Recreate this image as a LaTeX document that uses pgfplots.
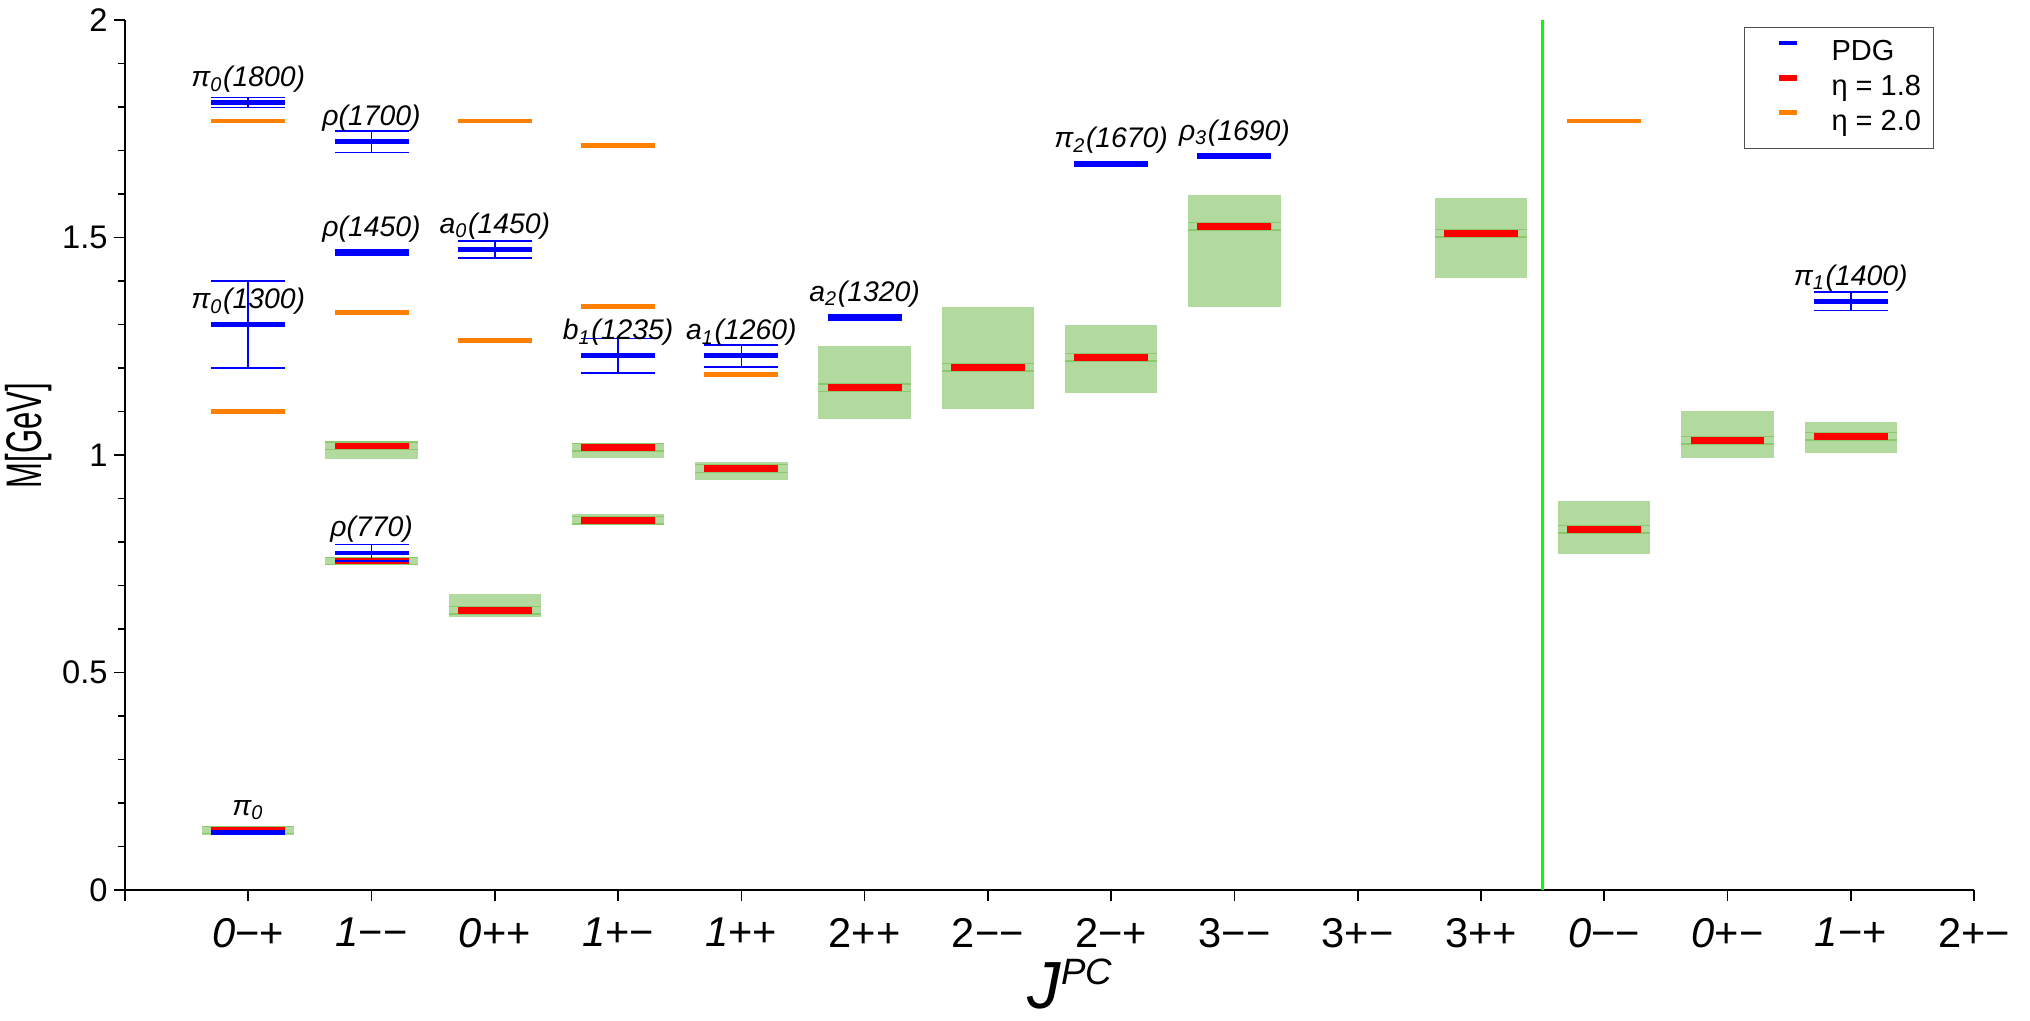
\documentclass[border=0pt]{standalone}
\usepackage{fontspec}
\setmainfont{Liberation Sans}
\usepackage{pgfplots}
\usepackage{pgfplotstable}
\pgfplotsset{compat=1.18}

\definecolor{pdgblue}{RGB}{0,0,255}
\definecolor{etared}{RGB}{255,0,0}
\definecolor{etaorange}{RGB}{255,128,0}
\definecolor{boxgreen}{RGB}{178,217,158}
\definecolor{linegreen}{RGB}{140,200,110}
\definecolor{vgreen}{RGB}{0,255,0}
\definecolor{legframe}{RGB}{80,80,80}

% PDG states: x, mass, error
\pgfplotstableread{
x y err
0 1.810 0.0115
0 1.300 0.100
0 0.133 0.004
1 1.720 0.025
1 1.465 0.006
1 0.775 0.019
2 1.473 0.0195
3 1.228 0.040
4 1.228 0.025
5 1.317 0.006
7 1.670 0.005
8 1.687 0.005
13 1.353 0.021
}\pdg

% eta = 1.8: x, value, band low, band high
\pgfplotstableread{
x red lo hi
0 0.138 0.126 0.145
1 1.021 0.991 1.029
1 0.756 0.750 0.766
2 0.643 0.628 0.680
3 1.0175 0.994 1.025
3 0.850 0.842 0.864
4 0.969 0.943 0.983
5 1.155 1.0835 1.2506
6 1.2013 1.1065 1.340
7 1.2245 1.1433 1.2989
8 1.5257 1.341 1.5977
10 1.5096 1.4076 1.5908
11 0.8292 0.7731 0.894
12 1.0337 0.9938 1.100
13 1.0429 1.0054 1.0759
}\calc

% eta = 2.0
\pgfplotstableread{
x y
0 1.768
0 1.100
1 1.328
2 1.768
2 1.2636
3 1.712
3 1.3416
4 1.1855
11 1.768
}\orng

\begin{document}
\begin{tikzpicture}
\begin{axis}[
  scale only axis, width=554.7pt, height=261pt,
  xmin=-1, xmax=14, ymin=0, ymax=2,
  axis lines*=left,
  axis line style={line width=0.7pt},
  tick align=outside,
  tick style={line width=0.5pt, black},
  major tick length=3.3pt, minor tick length=2.2pt,
  xtick={-1,0,...,14},
  xticklabels={{},{\textit{0}−+},{\textit{1}−−},{\textit{0}++},{\textit{1}+−},{\textit{1}++},{2++},{2−−},{2−+},{3−−},{3+−},{3++},{\textit{0}−−},{\textit{0}+−},{\textit{1}−+},{2+−}},
  ytick={0,0.5,1,1.5,2},
  yticklabels={0,0.5,1,1.5,2},
  minor y tick num=4,
  xticklabel style={font=\fontsize{12.5}{13}\selectfont, inner sep=0pt, yshift=-5pt},
  yticklabel style={font=\fontsize{9.8}{11}\selectfont, inner sep=0pt, xshift=-1.7pt},
  xlabel={\textit{J}\raisebox{7.2pt}{\fontsize{11}{12}\selectfont\textit{PC}}},
  xlabel style={at={(axis description cs:0.511,0)}, anchor=north, inner sep=0pt, yshift=-20.5pt, font=\fontsize{20}{22}\selectfont},
  ylabel={\scalebox{0.62}[1]{M[GeV]}},
  ylabel style={at={(axis description cs:-0.0523,0.522)}, anchor=center, inner sep=0pt, font=\fontsize{15}{16}\selectfont},
  legend style={at={(axis description cs:1,1)}, anchor=north east, xshift=-12pt, yshift=-2.1pt,
    draw=legframe, line width=0.4pt, font=\fontsize{8.7}{9}\selectfont,
    inner xsep=3.7pt, inner ysep=3.5pt, row sep=2.2pt,
    nodes={inner sep=0pt, text height=6.5pt, text depth=1.8pt},
    /tikz/every odd column/.append style={column sep=9.6pt}},
  legend cell align=left,
  clip=false,
]
% legend entries
\addlegendimage{legend image code/.code={\path (0pt,0pt); \draw[pdgblue, line width=1.1pt] (6.3pt,3.1pt) -- (11.7pt,3.1pt);}}
\addlegendentry{PDG}
\addlegendimage{legend image code/.code={\path (0pt,0pt); \draw[etared, line width=1.8pt] (6.3pt,3.1pt) -- (11.7pt,3.1pt);}}
\addlegendentry{η = 1.8}
\addlegendimage{legend image code/.code={\path (0pt,0pt); \draw[etaorange, line width=1.4pt] (6.3pt,3.1pt) -- (11.7pt,3.1pt);}}
\addlegendentry{η = 2.0}

% green bands
\addplot[draw=none, mark=none, forget plot,
  error bars/.cd, y dir=both, y explicit, error mark=none,
  error bar style={line width=27.7pt, draw=boxgreen}]
  table[x=x, y expr={(\thisrow{lo}+\thisrow{hi})/2}, y error expr={(\thisrow{hi}-\thisrow{lo})/2}] {\calc};
% thin darker lines inside the bands
\addplot[draw=none, mark=none, forget plot,
  error bars/.cd, x dir=both, x fixed=0.375, error mark=none,
  error bar style={line width=0.4pt, draw=linegreen}]
  table[x=x, y expr={\thisrow{red}+0.0085}] {\calc};
\addplot[draw=none, mark=none, forget plot,
  error bars/.cd, x dir=both, x fixed=0.375, error mark=none,
  error bar style={line width=0.4pt, draw=linegreen}]
  table[x=x, y expr={\thisrow{red}-0.0085}] {\calc};

% eta = 2.0
\addplot[draw=none, mark=none, forget plot,
  error bars/.cd, x dir=both, x fixed=0.3, error mark=none,
  error bar style={line width=1.4pt, draw=etaorange}]
  table[x=x, y=y] {\orng};

% eta = 1.8
\addplot[draw=none, mark=none, forget plot,
  error bars/.cd, x dir=both, x fixed=0.3, error mark=none,
  error bar style={line width=2pt, draw=etared}]
  table[x=x, y=red] {\calc};

% PDG error caps and vertical bars
\addplot[draw=none, mark=none, forget plot,
  error bars/.cd, x dir=both, x fixed=0.3, error mark=none,
  error bar style={line width=0.5pt, draw=pdgblue}]
  table[x=x, y expr={\thisrow{y}+\thisrow{err}}] {\pdg};
\addplot[draw=none, mark=none, forget plot,
  error bars/.cd, x dir=both, x fixed=0.3, error mark=none,
  error bar style={line width=0.5pt, draw=pdgblue}]
  table[x=x, y expr={\thisrow{y}-\thisrow{err}}] {\pdg};
\addplot[draw=none, mark=none, forget plot,
  error bars/.cd, y dir=both, y explicit, error mark=none,
  error bar style={line width=0.5pt, draw=pdgblue}]
  table[x=x, y=y, y error=err] {\pdg};
% PDG central values
\addplot[draw=none, mark=none, forget plot,
  error bars/.cd, x dir=both, x fixed=0.3, error mark=none,
  error bar style={line width=1.4pt, draw=pdgblue}]
  table[x=x, y=y] {\pdg};

% separator
\addplot[forget plot, draw=vgreen, line width=0.7pt] coordinates {(10.5,0) (10.5,2)};

% state names
\addplot[draw=none, mark=none, forget plot, point meta=explicit symbolic,
  nodes near coords,
  nodes near coords style={anchor=base, yshift=4.8pt, inner sep=0pt, text=black,
    font=\fontsize{8.5}{9}\selectfont\itshape}]
  coordinates {
    (0,1.810) [{π\textsubscript{0}(1800)}]
    (0,1.300) [{π\textsubscript{0}(1300)}]
    (0,0.135) [{π\textsubscript{0}}]
    (1,1.720) [{ρ(1700)}]
    (1,1.465) [{ρ(1450)}]
    (1,0.775) [{ρ(770)}]
    (2,1.473) [{a\textsubscript{0}(1450)}]
    (3,1.228) [{b\textsubscript{1}(1235)}]
    (4,1.228) [{a\textsubscript{1}(1260)}]
    (5,1.317) [{a\textsubscript{2}(1320)}]
    (7,1.670) [{π\textsubscript{2}(1670)}]
    (8,1.687) [{ρ\textsubscript{3}(1690)}]
    (13,1.353) [{π\textsubscript{1}(1400)}]
  };

\coordinate (ll) at (rel axis cs:0,0);
\coordinate (ur) at (rel axis cs:1,1);
\end{axis}
\pgfresetboundingbox
\path[use as bounding box] ([xshift=-37.5pt,yshift=-39.3pt]ll) rectangle ([xshift=16.8pt,yshift=6pt]ur);
\end{tikzpicture}
\end{document}
